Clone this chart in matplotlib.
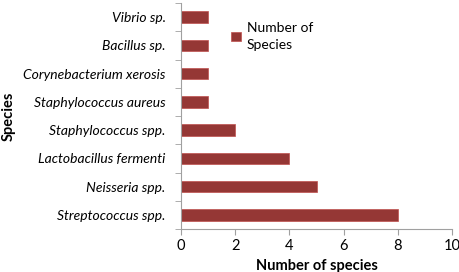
import matplotlib
matplotlib.use("Agg")
import matplotlib.pyplot as plt
import numpy as np
from matplotlib.ticker import FixedLocator

species = ["Streptococcus spp.", "Neisseria spp.", "Lactobacillus fermenti",
           "Staphylococcus spp.", "Staphylococcus aureus", "Corynebacterium xerosis",
           "Bacillus sp.", "Vibrio sp."]
counts = [8, 5, 4, 2, 1, 1, 1, 1]
x_ticks = [0, 2, 4, 6, 8, 10]

plt.rcParams['font.family'] = ['Lato', 'DejaVu Sans']

fig = plt.figure(figsize=(4.6, 2.72), dpi=100)
ax = fig.add_axes([0.3935, 0.158, 0.5891, 0.831])

y = np.arange(len(species))
ax.barh(y, counts, height=0.4, color='#953735', edgecolor='#c0504d', linewidth=0.5,
        label='Number of\nSpecies')

ax.set_xlim(0, 10)
ax.set_ylim(-0.5, len(species) - 0.5)
ax.set_xticks(x_ticks)
ax.set_yticks(y)
ax.set_yticklabels(species, style='italic', fontsize=10)
ax.yaxis.set_minor_locator(FixedLocator(np.arange(-0.5, len(species), 1)))
ax.tick_params(axis='y', which='major', length=0, pad=11)
ax.tick_params(axis='y', which='minor', length=4, color='#a0a0a0')
ax.tick_params(axis='x', length=4, color='#a0a0a0', labelsize=10.5)

for s in ['top', 'right']:
    ax.spines[s].set_visible(False)
for s in ['left', 'bottom']:
    ax.spines[s].set_color('#a0a0a0')

ax.set_xlabel('Number of species', fontweight='bold', fontsize=10.5, labelpad=4)
ax.set_ylabel('Species', fontweight='bold', fontsize=10.5)
ax.yaxis.set_label_coords(-0.61, 0.5)

leg = ax.legend(loc='upper left', bbox_to_anchor=(0.165, 0.94), frameon=False, fontsize=10,
                handlelength=0.7, handleheight=0.7, handletextpad=0.4, borderaxespad=0)
leg.get_texts()[0].set_linespacing(1.45)

fig.savefig('out.png', dpi=100)
